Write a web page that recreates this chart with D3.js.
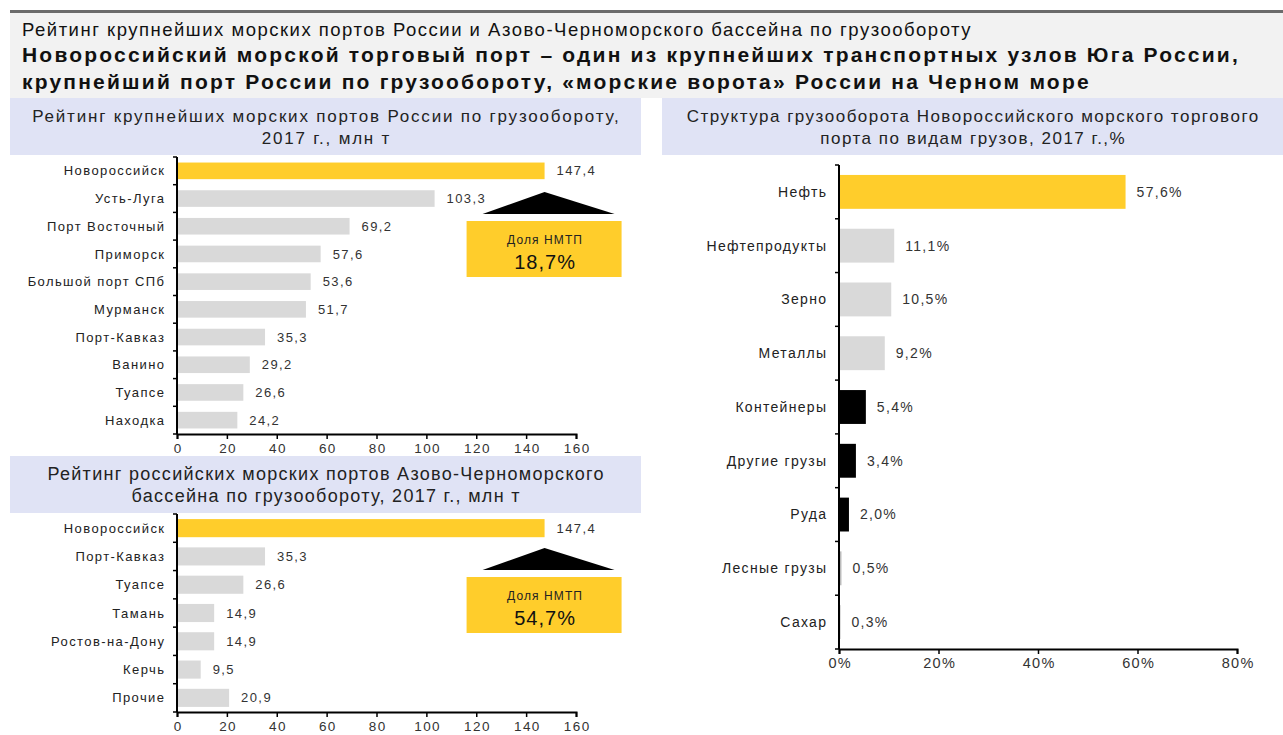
<!DOCTYPE html>
<html>
<head>
<meta charset="utf-8">
<script src="https://cdn.jsdelivr.net/npm/d3@7"></script>
<style>
  body { margin: 0; background: #fff; }
  svg text { font-family: "Liberation Sans", Arial, sans-serif; }
</style>
</head>
<body>
<div id="chart"></div>
<script>
// data
var ports = ["Новороссийск", "Усть-Луга", "Порт Восточный", "Приморск", "Большой порт СПб",
             "Мурманск", "Порт-Кавказ", "Ванино", "Туапсе", "Находка"];
var portValues = [147.4, 103.3, 69.2, 57.6, 53.6, 51.7, 35.3, 29.2, 26.6, 24.2];

var azovPorts = ["Новороссийск", "Порт-Кавказ", "Туапсе", "Тамань", "Ростов-на-Дону", "Керчь", "Прочие"];
var azovValues = [147.4, 35.3, 26.6, 14.9, 14.9, 9.5, 20.9];

var cargo = ["Нефть", "Нефтепродукты", "Зерно", "Металлы", "Контейнеры", "Другие грузы", "Руда", "Лесные грузы", "Сахар"];
var cargoShare = [57.6, 11.1, 10.5, 9.2, 5.4, 3.4, 2.0, 0.5, 0.3];

var portTicks = [0, 20, 40, 60, 80, 100, 120, 140, 160];
var cargoTicks = [0, 20, 40, 60, 80];

var shareAll = "18,7%";
var shareAzov = "54,7%";

var YELLOW = "#ffcd2b", GREY = "#d9d9d9", LAV = "#e0e3f5";

var svg = d3.select("#chart").append("svg")
  .attr("width", 1283).attr("height", 735);

// header
svg.append("rect").attr("x", 10).attr("y", 12).attr("width", 1273).attr("height", 86).attr("fill", "#f2f2f2");
svg.append("rect").attr("x", 10).attr("y", 10).attr("width", 1273).attr("height", 3).attr("fill", "#6b6b6b");
svg.append("text").attr("x", 22).attr("y", 36).attr("font-size", 18.5).attr("letter-spacing", 1.5).attr("fill", "#111")
  .text("Рейтинг крупнейших морских портов России и Азово-Черноморского бассейна по грузообороту");
svg.append("text").attr("x", 22).attr("y", 62).attr("font-size", 21).attr("letter-spacing", 2.2)
  .attr("font-weight", "bold").attr("fill", "#111")
  .text("Новороссийский морской торговый порт – один из крупнейших транспортных узлов Юга России,");
svg.append("text").attr("x", 22).attr("y", 89).attr("font-size", 21).attr("letter-spacing", 2.2)
  .attr("font-weight", "bold").attr("fill", "#111")
  .text("крупнейший порт России по грузообороту, «морские ворота» России на Черном море");

// panel titles
function panelTitle(x, y, w, lines, fs, ls) {
  svg.append("rect").attr("x", x).attr("y", y).attr("width", w).attr("height", 57).attr("fill", LAV);
  lines.forEach(function(t, i) {
    svg.append("text").attr("x", x + w / 2 + ls / 2).attr("y", y + 24 + i * 22)
      .attr("text-anchor", "middle").attr("font-size", fs).attr("letter-spacing", ls)
      .attr("fill", "#222").text(t);
  });
}
panelTitle(10, 98, 631, ["Рейтинг крупнейших морских портов России по грузообороту,", "2017 г., млн т"], 17, 1.8);
panelTitle(10, 456, 631, ["Рейтинг российских морских портов Азово-Черноморского", "бассейна по грузообороту, 2017 г., млн т"], 18, 1.3);
panelTitle(662, 98, 621, ["Структура грузооборота Новороссийского морского торгового", "порта по видам грузов, 2017 г.,%"], 17, 1.5);

function fmt(v) { return d3.format(".1f")(v).replace(".", ","); }

// horizontal bar chart
function barChart(opt) {
  var g = svg.append("g");
  var x = d3.scaleLinear().domain(opt.domain).range([opt.x0, opt.x1]);
  var y = d3.scaleBand().domain(opt.cats).range([opt.y0, opt.y1]).paddingInner(opt.pad).paddingOuter(opt.pad / 2);

  g.selectAll(".bar").data(opt.cats).enter().append("rect")
    .attr("x", x(0) + 1)
    .attr("y", function(d) { return y(d); })
    .attr("width", function(d, i) { return Math.max(0, x(opt.values[i]) - x(0) - 1); })
    .attr("height", y.bandwidth())
    .attr("fill", function(d, i) { return opt.colors[i]; });

  g.selectAll(".val").data(opt.cats).enter().append("text")
    .attr("x", function(d, i) { return x(opt.values[i]) + opt.valGap; })
    .attr("y", function(d) { return y(d) + y.bandwidth() / 2; })
    .attr("dy", "0.35em").attr("font-size", opt.fs).attr("letter-spacing", opt.ls).attr("fill", "#333")
    .text(function(d, i) { return opt.label(opt.values[i]); });

  g.selectAll(".cat").data(opt.cats).enter().append("text")
    .attr("x", opt.x0 - opt.catGap + opt.ls)
    .attr("y", function(d) { return y(d) + y.bandwidth() / 2; })
    .attr("dy", "0.35em").attr("text-anchor", "end").attr("font-size", opt.fs).attr("letter-spacing", opt.ls)
    .attr("fill", "#222")
    .text(function(d) { return d; });

  // y axis line and band-boundary ticks
  g.append("line").attr("x1", opt.x0).attr("x2", opt.x0).attr("y1", opt.y0).attr("y2", opt.y1)
    .attr("stroke", "#000").attr("stroke-width", 2);
  var step = y.step();
  d3.range(opt.cats.length + 1).forEach(function(i) {
    g.append("line").attr("x1", opt.x0 - 4).attr("x2", opt.x0)
      .attr("y1", opt.y0 + i * step).attr("y2", opt.y0 + i * step)
      .attr("stroke", "#000").attr("stroke-width", 1.5);
  });

  // x axis
  var ax = g.append("g").attr("transform", "translate(0," + opt.y1 + ")")
    .call(d3.axisBottom(x).tickValues(opt.ticks).tickSize(5).tickPadding(4).tickFormat(opt.tickFmt));
  ax.select(".domain").attr("stroke", "#000").attr("stroke-width", 2);
  ax.selectAll(".tick line").attr("stroke", "#000").attr("stroke-width", 1.5);
  ax.selectAll(".tick text").attr("font-size", opt.fs + 0.5).attr("fill", "#333")
    .attr("letter-spacing", opt.ls).attr("dx", opt.ls / 2)
    .attr("font-family", "Liberation Sans, Arial, sans-serif");
  return { x: x, y: y };
}

// NMTP share callout: arrow + yellow box
function shareBox(x, v, top, txt) {
  var xc = x(v);
  svg.append("path")
    .attr("d", "M" + xc + "," + top + "L" + (xc + 70) + "," + (top + 22) + "L" + (xc - 62) + "," + (top + 22) + "Z")
    .attr("fill", "#000");
  svg.append("rect").attr("x", xc - 78).attr("y", top + 29).attr("width", 155).attr("height", 56).attr("fill", YELLOW);
  svg.append("text").attr("x", xc + 0.5).attr("y", top + 52).attr("text-anchor", "middle")
    .attr("font-size", 12).attr("letter-spacing", 1.1).attr("fill", "#222").text("Доля НМТП");
  svg.append("text").attr("x", xc + 0.5).attr("y", top + 77).attr("text-anchor", "middle")
    .attr("font-size", 20).attr("letter-spacing", 1).attr("fill", "#111").text(txt);
}

var c1 = barChart({
  cats: ports, values: portValues, domain: [0, 160], ticks: portTicks,
  x0: 177, x1: 576, y0: 157, y1: 434, pad: 0.4,
  colors: portValues.map(function(d, i) { return i === 0 ? YELLOW : GREY; }),
  label: fmt, valGap: 12, catGap: 13, fs: 13, ls: 1.4, tickFmt: d3.format("d")
});
shareBox(c1.x, portValues[0], 192, shareAll);

var c2 = barChart({
  cats: azovPorts, values: azovValues, domain: [0, 160], ticks: portTicks,
  x0: 177, x1: 576, y0: 514, y1: 712, pad: 0.36,
  colors: azovValues.map(function(d, i) { return i === 0 ? YELLOW : GREY; }),
  label: fmt, valGap: 12, catGap: 13, fs: 13, ls: 1.4, tickFmt: d3.format("d")
});
shareBox(c2.x, azovValues[0], 548, shareAzov);

var cargoColors = [YELLOW, GREY, GREY, GREY, "#000", "#000", "#000", "#bbb", "#bbb"];
barChart({
  cats: cargo, values: cargoShare, domain: [0, 80], ticks: cargoTicks,
  x0: 839, x1: 1237, y0: 165, y1: 649, pad: 0.37,
  colors: cargoColors,
  label: function(v) { return fmt(v) + "%"; }, valGap: 11, catGap: 13, fs: 14, ls: 1.3,
  tickFmt: function(d) { return d + "%"; }
});
</script>
</body>
</html>
